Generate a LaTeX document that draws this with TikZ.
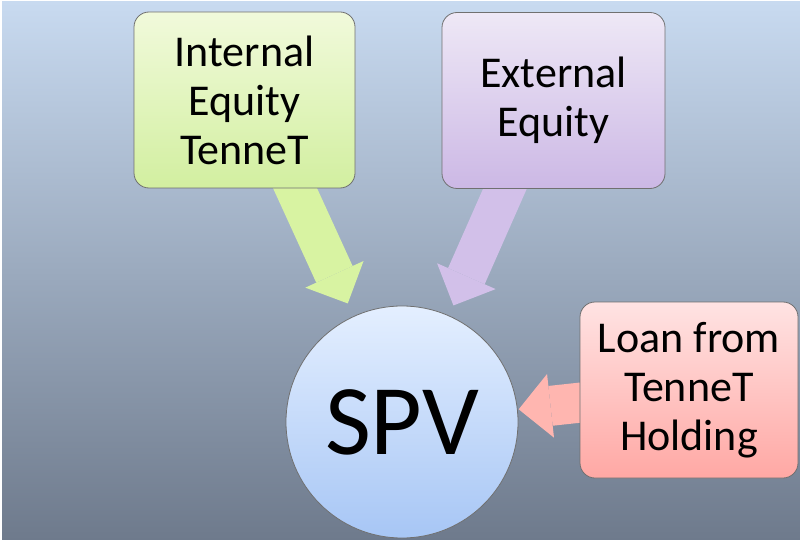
\documentclass[tikz,border=0pt]{standalone}
\usepackage{fontspec}
\setmainfont{Carlito}
\usetikzlibrary{arrows.meta,backgrounds}

\definecolor{bgtop}{HTML}{C8DAF0}
\definecolor{bgbot}{HTML}{6E7A8C}
\definecolor{boxline}{HTML}{707070}
\definecolor{ietop}{HTML}{F1FADB}
\definecolor{iebot}{HTML}{D2EFA0}
\definecolor{eetop}{HTML}{EEE8F6}
\definecolor{eebot}{HTML}{CCB8E5}
\definecolor{lntop}{HTML}{FFE3E3}
\definecolor{lnbot}{HTML}{FFA8A4}
\definecolor{spvtop}{HTML}{E4EFFF}
\definecolor{spvbot}{HTML}{A7C6F5}
\definecolor{ieflow}{HTML}{D8F3A2}
\definecolor{eeflow}{HTML}{D2C0E9}
\definecolor{lnflow}{HTML}{FFB6B0}

\begin{document}
\begin{tikzpicture}[x=1pt,y=-1pt,
  box/.style={draw=boxline,line width=0.8pt,rounded corners=15pt,
    minimum width=221pt,minimum height=176pt,inner sep=4pt,align=center,
    font=\fontsize{44}{49}\selectfont},
  flow/.style={line width=40pt,-{Triangle[length=32pt,width=64pt,line width=0pt]}}]
\useasboundingbox (0,0) rectangle (800,540);
\node[box,top color=ietop,bottom color=iebot]				(ie)	at (244.5,100)	{Internal\\Equity\\TenneT};
\node[box,top color=eetop,bottom color=eebot,minimum width=223pt]	(ee)	at (553.5,100.5)	{External\\Equity};
\node[box,top color=lntop,bottom color=lnbot,minimum width=218pt]	(loan)	at (689,390)	{Loan from\\TenneT\\Holding};
\node[circle,draw=boxline,line width=0.8pt,top color=spvtop,bottom color=spvbot,
  minimum size=232pt,inner sep=0pt,font=\fontsize{100}{100}\selectfont]	(spv)	at (402,422)	{SPV};
\begin{scope}[on background layer]
\shade[top color=bgtop,bottom color=bgbot] (2,2) rectangle (800,540);
\coordinate (ie_out)	at (289,175);
\coordinate (ee_out)	at (511,175);
\coordinate (loan_out)	at (595,401);
\path[flow]	(ie_out)	edge [draw=ieflow,shorten >=14pt]	(spv)
		(ee_out)	edge [draw=eeflow,shorten >=11pt]	(spv)
		(loan_out)	edge [draw=lnflow,shorten >=1pt]	(spv);
\end{scope}
\end{tikzpicture}
\end{document}
